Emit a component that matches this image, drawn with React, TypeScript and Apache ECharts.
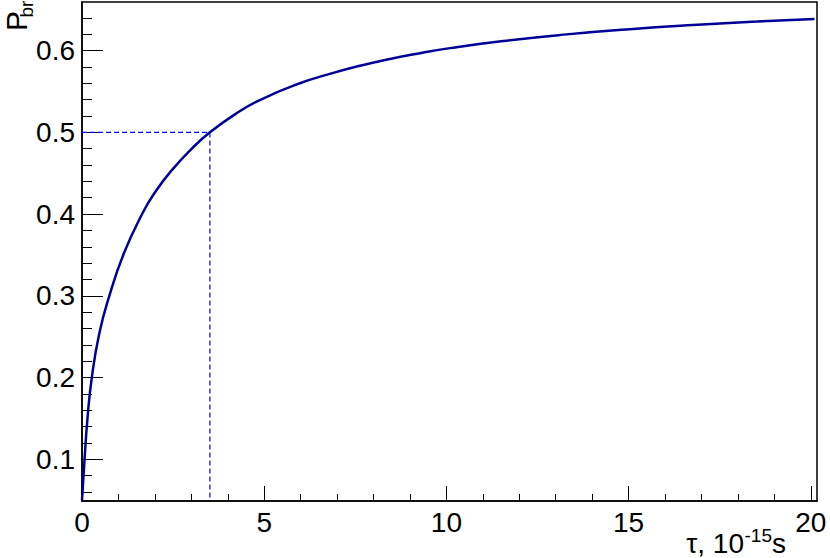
import React, { useEffect, useRef } from "react";
import * as echarts from "echarts";

// Curve
const tau = [0, 0.07, 0.15, 0.26, 0.47, 0.75, 1.15, 1.66, 2.0, 2.46, 3.0, 3.51, 4.2, 4.88, 5.98, 6.8, 7.63, 8.45, 9.27, 10.1, 11.56, 13.3, 15.03, 16.77, 18.51, 20.1];
const pbr = [0.05, 0.1, 0.15, 0.197, 0.253, 0.3, 0.352, 0.401, 0.4265, 0.4535, 0.4795, 0.5, 0.522, 0.5395, 0.56, 0.5715, 0.5815, 0.5898, 0.5968, 0.603, 0.6117, 0.6198, 0.6262, 0.6313, 0.6355, 0.6387];

// Half-value marker
const markTau = 3.51;
const markP = 0.5;

// Axis ranges and ticks
const xMin = 0;
const xMax = 20.17;
const yMin = 0.0491;
const yMax = 0.6594;
const xMajorTicks = [0, 5, 10, 15, 20];
const xMinorTicks = [1, 2, 3, 4, 6, 7, 8, 9, 11, 12, 13, 14, 16, 17, 18, 19];
const yMajorTicks = [0.1, 0.2, 0.3, 0.4, 0.5, 0.6];
const yMinorTicks = [0.06, 0.08, 0.12, 0.14, 0.16, 0.18, 0.22, 0.24, 0.26, 0.28, 0.32, 0.34, 0.36, 0.38, 0.42, 0.44, 0.46, 0.48, 0.52, 0.54, 0.56, 0.58, 0.62, 0.64];

const FONT = '"Liberation Sans", Arial, Helvetica, sans-serif';

export default function App() {
  const ref = useRef<HTMLDivElement>(null);
  useEffect(() => {
    if (!ref.current) return;
    const chart = echarts.init(ref.current, undefined, { renderer: "svg" });
    const curve = tau.map((t, i) => [t, pbr[i]]);
    const guide = [
      [xMin, markP],
      [markTau, markP],
      [markTau, yMin],
    ];
    const commonX = { type: "value", min: xMin, max: xMax, position: "bottom", splitLine: { show: false } };
    const commonY = { type: "value", min: yMin, max: yMax, position: "left", splitLine: { show: false } };
    chart.setOption({
      animation: false,
      backgroundColor: "#ffffff",
      grid: {
        left: 82,
        top: 2,
        right: 13,
        bottom: 57,
        show: true,
        borderColor: "#000",
        borderWidth: 1.5,
        backgroundColor: "transparent",
      },
      xAxis: [
        {
          ...commonX,
          axisLine: { show: true, onZero: false, lineStyle: { color: "#000", width: 1.5 } },
          axisTick: { show: true, inside: true, length: 15, customValues: xMajorTicks, lineStyle: { color: "#000", width: 1 } },
          axisLabel: {
            show: true,
            customValues: xMajorTicks,
            margin: 7,
            fontSize: 28,
            fontFamily: FONT,
            color: "#000",
          },
        },
        {
          ...commonX,
          axisLine: { show: false },
          axisTick: { show: true, inside: true, length: 7, customValues: xMinorTicks, lineStyle: { color: "#000", width: 1 } },
          axisLabel: { show: false },
        },
      ],
      yAxis: [
        {
          ...commonY,
          axisLine: { show: true, onZero: false, lineStyle: { color: "#000", width: 1.5 } },
          axisTick: { show: true, inside: true, length: 21, customValues: yMajorTicks, lineStyle: { color: "#000", width: 1 } },
          axisLabel: {
            show: true,
            customValues: yMajorTicks,
            margin: 7,
            fontSize: 28,
            fontFamily: FONT,
            color: "#000",
            formatter: (v: number) => v.toFixed(1),
          },
        },
        {
          ...commonY,
          axisLine: { show: false },
          axisTick: { show: true, inside: true, length: 10, customValues: yMinorTicks, lineStyle: { color: "#000", width: 1 } },
          axisLabel: { show: false },
        },
      ],
      series: [
        {
          type: "line",
          xAxisIndex: 0,
          yAxisIndex: 0,
          data: guide,
          showSymbol: false,
          symbol: "none",
          lineStyle: { color: "#0000ff", width: 1.2, type: [5, 3] },
          z: 2,
        },
        {
          type: "line",
          xAxisIndex: 0,
          yAxisIndex: 0,
          data: curve,
          showSymbol: false,
          symbol: "none",
          smooth: 0.5,
          lineStyle: { color: "#000099", width: 2.5 },
          z: 3,
        },
      ],
      graphic: [
        {
          type: "text",
          x: 16,
          y: 31,
          rotation: Math.PI / 2,
          style: { text: "P", fontSize: 30, fontFamily: FONT, fill: "#000", align: "left", verticalAlign: "middle" },
        },
        {
          type: "text",
          x: 26.5,
          y: 17.5,
          rotation: Math.PI / 2,
          style: { text: "br", fontSize: 19, fontFamily: FONT, fill: "#000", align: "left", verticalAlign: "middle" },
        },
        {
          type: "text",
          x: 786,
          y: 543,
          style: { text: "s", fontSize: 28, fontFamily: FONT, fill: "#000", align: "right", verticalAlign: "middle" },
        },
        {
          type: "text",
          x: 772,
          y: 535,
          style: { text: "-15", fontSize: 19, fontFamily: FONT, fill: "#000", align: "right", verticalAlign: "middle" },
        },
        {
          type: "text",
          x: 744,
          y: 543,
          style: { text: "τ, 10", fontSize: 28, fontFamily: FONT, fill: "#000", align: "right", verticalAlign: "middle" },
        },
      ],
    });
    return () => chart.dispose();
  }, []);
  return (
    <div
      ref={ref}
      style={{ position: "fixed", left: 0, top: 0, width: 830, height: 558, background: "#fff" }}
    />
  );
}
